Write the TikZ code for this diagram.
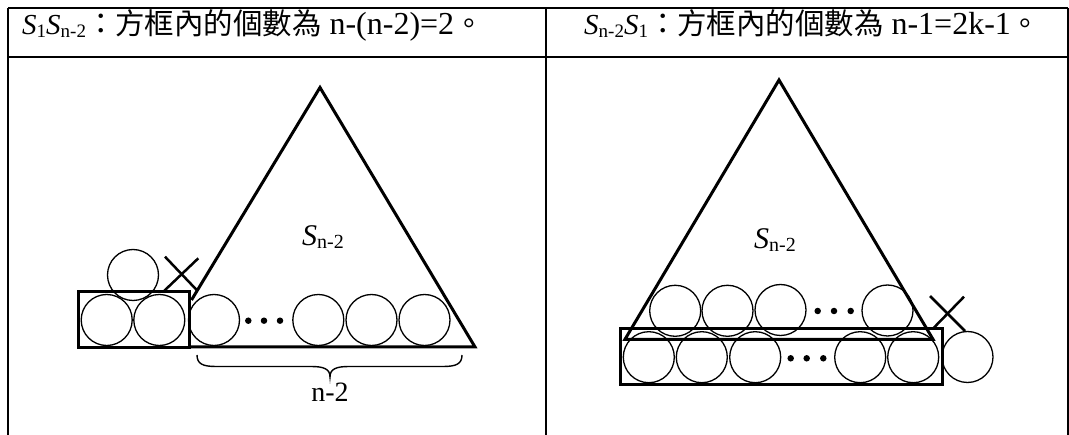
\documentclass[tikz,border=0pt]{standalone}
\usepackage{fontspec}
\setmainfont{Liberation Serif}
\newfontfamily\cjk[Scale=0.92]{Noto Sans CJK TC}
\newcommand\Ssub[3]{{\fontsize{#2}{#2}\selectfont\textit{S}}{\fontsize{#3}{#3}\selectfont\raisebox{-3pt}{#1}}}
\begin{document}
\begin{tikzpicture}[x=1pt,y=-1pt,
  ball/.style={circle,draw,line width=1.3pt,minimum size=51pt,inner sep=0pt},
  frameline/.style={line width=1.8pt},
  triline/.style={line width=3pt,line join=miter},
  boxline/.style={line width=3pt},
  crossline/.style={line width=2.5pt},
  dotc/.style={circle,fill=black,minimum size=6.5pt,inner sep=0pt},
  hdr/.style={inner sep=0pt,anchor=base west,font=\fontsize{32}{34}\selectfont},
  lbl/.style={inner sep=0pt,font=\fontsize{28}{30}\selectfont}]
\useasboundingbox (0,0) rectangle (1069,435);
% table frame
\coordinate (tl) at (8,8); \coordinate (tr) at (1068,8);
\coordinate (ml) at (8,57); \coordinate (mr) at (1068,57);
\coordinate (bl) at (8,435); \coordinate (bm) at (546,435); \coordinate (br) at (1068,435);
\coordinate (tm) at (546,8);
\draw[frameline] (tl) -- (tr);
\draw[frameline] (ml) -- (mr);
\draw[frameline] (tl) -- (bl);
\draw[frameline] (tm) -- (bm);
\draw[frameline] (tr) -- (br);
% headers
\node[hdr] (h1) at (22,35) {\Ssub{1}{29}{19}\Ssub{n-2}{29}{19}{\cjk ：方框內的個數為} n-(n-2)=2{\cjk 。}};
\node[hdr] (h2) at (584,35) {\Ssub{n-2}{29}{19}\Ssub{1}{29}{19}{\cjk ：方框內的個數為} n-1=2k-1{\cjk 。}};
% ---------- left panel ----------
\coordinate (LA) at (320,87.5);
\coordinate (LLs) at (191.5,300);
\coordinate (LBl) at (190,347);
\coordinate (LBr) at (475,347);
\draw[triline] (LLs) -- (LA) -- (LBr) -- (LBl);
\node[lbl] (L-lab) at (323,237) {\Ssub{n-2}{30}{20}};
\node[ball] (lb1) at (106.7,320) {};
\node[ball] (lb2) at (159.3,320) {};
\node[ball] (ltop) at (133,275) {};
\node[ball] (lc1) at (214,320) {};
\node[dotc] (ld1) at (248.3,320.7) {};
\node[dotc] (ld2) at (264,320.7) {};
\node[dotc] (ld3) at (280,320.7) {};
\node[ball] (lc2) at (318.3,320) {};
\node[ball] (lc3) at (371.5,320) {};
\node[ball] (lc4) at (424.5,320) {};
\draw[boxline] (78.3,291.7) rectangle (189.3,347.3);
\coordinate (lx1) at (165,256.7); \coordinate (lx2) at (196.7,290);
\coordinate (lx3) at (198.3,258.3); \coordinate (lx4) at (163.3,291.7);
\draw[crossline] (lx1) -- (lx2);
\draw[crossline] (lx3) -- (lx4);
\coordinate (brL) at (197,355);
\coordinate (brR) at (462,355);
\coordinate (brT) at (330,377);
\draw[line width=1.4pt] (brL) .. controls (197,364) and (203,366.5) .. (216,366.5) -- (311,366.5)
  .. controls (324,366.5) and (330,369) .. (brT)
  .. controls (330,369) and (336,366.5) .. (349,366.5) -- (443,366.5)
  .. controls (456,366.5) and (462,364) .. (brR);
\node[lbl] (L-n2) at (330,392) {n-2};
% ---------- right panel ----------
\coordinate (RA) at (779,80);
\coordinate (RBl) at (625,339.3);
\coordinate (RBr) at (933,339.3);
\node[ball] (rt1) at (675.2,310.8) {};
\node[ball] (rt2) at (727.5,310.8) {};
\node[ball] (rt3) at (780.5,310) {};
\node[dotc] (rtd1) at (817.7,311) {};
\node[dotc] (rtd2) at (834,311) {};
\node[dotc] (rtd3) at (850.7,311) {};
\node[ball] (rt4) at (887.5,310.5) {};
\node[ball] (rb1) at (648.8,357.2) {};
\node[ball] (rb2) at (701.8,357.2) {};
\node[ball] (rb3) at (755.2,357.2) {};
\node[dotc] (rbd1) at (790.7,358.3) {};
\node[dotc] (rbd2) at (806.7,358.3) {};
\node[dotc] (rbd3) at (823.3,358.3) {};
\node[ball] (rb4) at (860.2,357.2) {};
\node[ball] (rb5) at (913.2,357.2) {};
\node[ball] (rout) at (967.5,357) {};
\draw[triline] (RBl) -- (RA) -- (RBr) -- cycle;
\node[lbl] (R-lab) at (775,240) {\Ssub{n-2}{30}{20}};
\draw[boxline] (620,328.3) rectangle (942.7,385);
\coordinate (rx1) at (930,296); \coordinate (rx2) at (965,331);
\coordinate (rx3) at (964,296.7); \coordinate (rx4) at (933.3,328.3);
\draw[crossline] (rx1) -- (rx2);
\draw[crossline] (rx3) -- (rx4);
\end{tikzpicture}
\end{document}
